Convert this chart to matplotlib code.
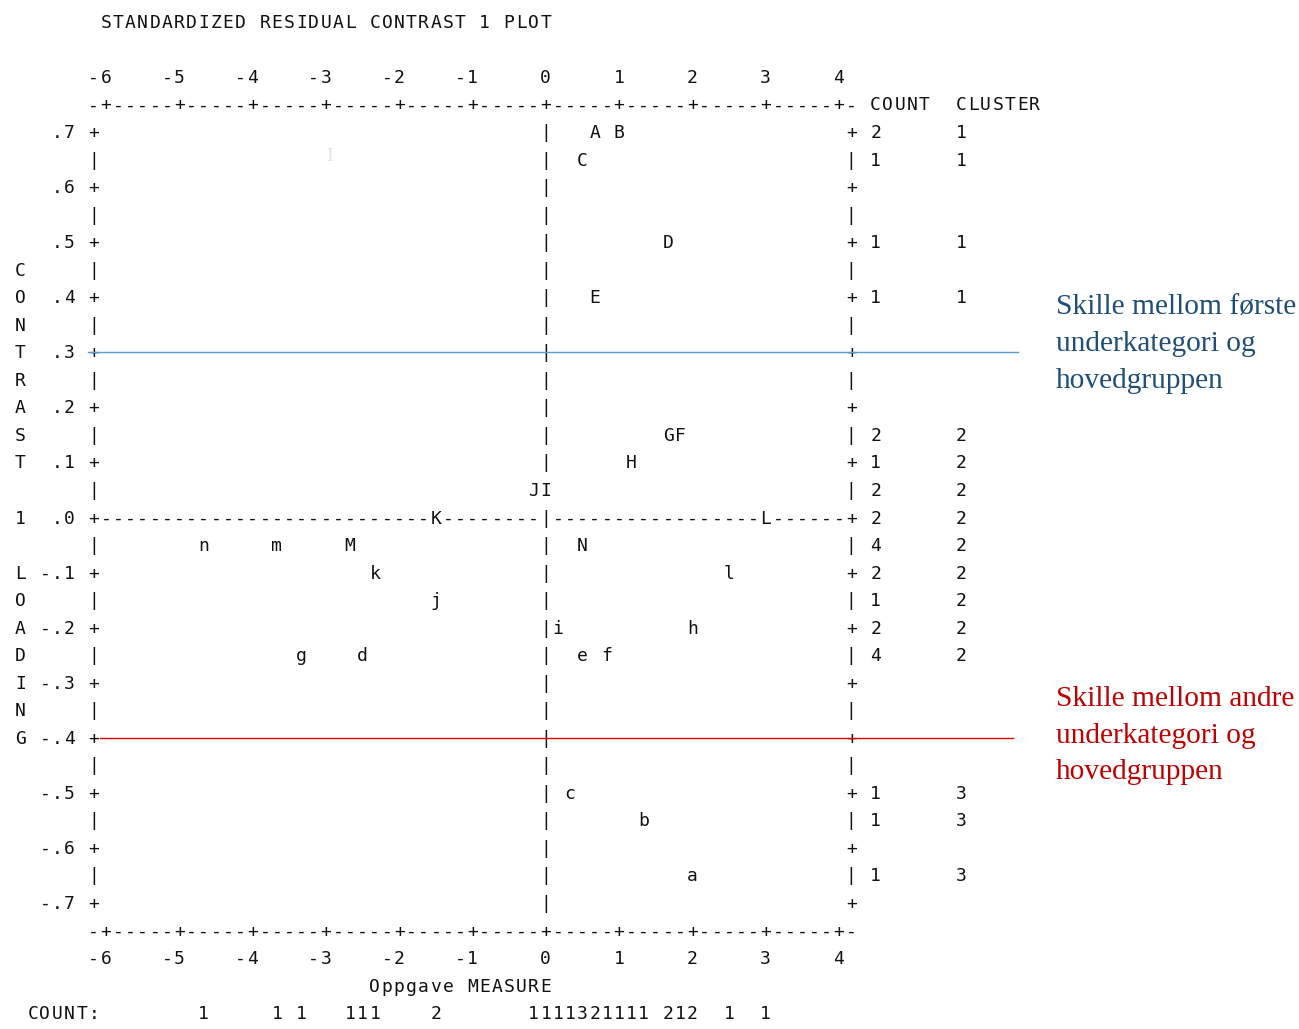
import matplotlib
matplotlib.use("Agg")
import matplotlib.pyplot as plt
from matplotlib.transforms import offset_copy
from collections import Counter

# ---------------- data ----------------
items = ['A', 'B', 'C', 'D', 'E', 'F', 'G', 'H', 'I', 'J', 'K', 'L', 'M', 'N',
         'a', 'b', 'c', 'd', 'e', 'f', 'g', 'h', 'i', 'j', 'k', 'l', 'm', 'n']
measure = [0.67, 1.00, 0.50, 1.67, 0.67, 1.83, 1.67, 1.17, 0.00, -0.17, -1.50, 3.00, -2.67, 0.50,
           2.00, 1.33, 0.33, -2.50, 0.50, 0.83, -3.33, 2.00, 0.17, -1.50, -2.33, 2.50, -3.67, -4.67]
loading = [0.70, 0.70, 0.65, 0.50, 0.40, 0.15, 0.15, 0.10, 0.05, 0.05, 0.00, 0.00, -0.05, -0.05,
           -0.65, -0.55, -0.50, -0.25, -0.25, -0.25, -0.25, -0.20, -0.20, -0.15, -0.10, -0.10, -0.05, -0.05]
cluster = [1, 1, 1, 1, 1, 2, 2, 2, 2, 2, 2, 2, 2, 2,
           3, 3, 3, 2, 2, 2, 2, 2, 2, 2, 2, 2, 2, 2]

x_ticks = [-6, -5, -4, -3, -2, -1, 0, 1, 2, 3, 4]
y_ticks = [0.7, 0.6, 0.5, 0.4, 0.3, 0.2, 0.1, 0.0, -0.1, -0.2, -0.3, -0.4, -0.5, -0.6, -0.7]
y_tick_labels = ['.7', '.6', '.5', '.4', '.3', '.2', '.1', '.0',
                 '-.1', '-.2', '-.3', '-.4', '-.5', '-.6', '-.7']
title = 'STANDARDIZED RESIDUAL CONTRAST 1 PLOT'
x_label = 'Oppgave MEASURE'
y_label = 'CONTRAST 1 LOADING'
separators = [0.3, -0.4]
separator_text = [['Skille mellom første', 'underkategori og', 'hovedgruppen'],
                  ['Skille mellom andre', 'underkategori og', 'hovedgruppen']]

# ---------------- style ----------------
INK = '#111111'
MONO = 'DejaVu Sans Mono'
FS = 13
COLS_PER_UNIT = 6
ROW_STEP = 0.05
BLUE_LINE, BLUE_TXT = '#5B9BD5', '#1F4E79'
RED_LINE, RED_TXT = '#E00000', '#C00000'

fig = plt.figure(figsize=(12.99, 10.29), dpi=100)
ax = fig.add_axes([0, 0, 1, 1])
ax.axis('off')
PX_X0, PX_PER_UNIT = 545.8, 73.3
PX_Y0, PX_PER_LOAD = 517.5, 550.7
ax.set_xlim(-PX_X0 / PX_PER_UNIT, (1299 - PX_X0) / PX_PER_UNIT)
ax.set_ylim((PX_Y0 - 1029) / PX_PER_LOAD, PX_Y0 / PX_PER_LOAD)

trans = offset_copy(ax.transData, fig=fig, x=0, y=-6.0, units='dots')


def put_char(x, y, ch, color=INK):
    ax.text(x, y, ch, transform=trans, ha='center', va='baseline',
            fontfamily=MONO, fontsize=FS, color=color)


def put(col, row, s, align='left'):
    start = col if align == 'left' else col - len(s) + 1
    for i, ch in enumerate(s):
        if ch != ' ':
            put_char((start + i) / COLS_PER_UNIT, row * ROW_STEP, ch)


cols = [round(m * COLS_PER_UNIT) for m in measure]
rows = [round(l / ROW_STEP) for l in loading]
occupied = set(zip(cols, rows))

left_col = x_ticks[0] * COLS_PER_UNIT - 1
right_col = x_ticks[-1] * COLS_PER_UNIT + 1
top_row = round(y_ticks[0] / ROW_STEP) + 1
bot_row = round(y_ticks[-1] / ROW_STEP) - 1
tick_cols = {t * COLS_PER_UNIT for t in x_ticks}

# top & bottom borders
for c in range(left_col, right_col + 1):
    ch = '+' if c in tick_cols else '-'
    put(c, top_row, ch)
    put(c, bot_row, ch)

# left / right borders and centre line
for r in range(bot_row + 1, top_row):
    ch = '+' if r % 2 == 0 else '|'
    put(left_col, r, ch)
    put(right_col, r, ch)
    if (0, r) not in occupied:
        put(0, r, '|')

# zero row dashes
for c in range(left_col + 1, right_col):
    if c != 0 and (c, 0) not in occupied:
        put(c, 0, '-')

# x tick labels
for t in x_ticks:
    put(t * COLS_PER_UNIT, top_row + 1, str(t), align='right')
    put(t * COLS_PER_UNIT, bot_row - 1, str(t), align='right')

# y tick labels
for v, lab in zip(y_ticks, y_tick_labels):
    put(left_col - 2, round(v / ROW_STEP), lab, align='right')

# vertical y label
for i, ch in enumerate(y_label):
    put(left_col - 6, 9 - i, ch)

# title and axis label
put(x_ticks[0] * COLS_PER_UNIT, top_row + 3, title)
put(0, bot_row - 2, x_label, align='right')

# data letters
for lab, m, l in zip(items, measure, loading):
    put_char(m, l, lab)

# right columns: COUNT / CLUSTER
put(right_col + 2, top_row, 'COUNT')
put(right_col + 9, top_row, 'CLUSTER')
row_count = Counter(rows)
row_cluster = {}
for r, cl in zip(rows, cluster):
    row_cluster.setdefault(r, cl)
for r, n in row_count.items():
    put(right_col + 2, r, str(n))
    put(right_col + 9, r, str(row_cluster[r]))

# bottom COUNT row
put(left_col - 5, bot_row - 3, 'COUNT:')
for c, n in Counter(cols).items():
    put(c, bot_row - 3, str(n))

# separator lines and notes
line_x = [(-6.245, 6.446), (-6.08, 6.376)]
line_cols = [BLUE_LINE, RED_LINE]
txt_cols = [BLUE_TXT, RED_TXT]
first_offsets = [38, 32]
for y, (x0, x1), lc, tc, lines, off in zip(separators, line_x, line_cols, txt_cols,
                                           separator_text, first_offsets):
    ax.plot([x0, x1], [y, y], color=lc, lw=1.0, zorder=5)
    for k, s in enumerate(lines):
        t = offset_copy(ax.transData, fig=fig, x=0, y=off - 36.8 * k, units='dots')
        ax.text(6.96, y, s, transform=t, ha='left', va='baseline',
                fontfamily='Liberation Serif', fontsize=21.2, color=tc)

# faint cursor artefact
ax.text(-2.95, 0.655, 'I', ha='center', va='center', fontfamily='Liberation Serif',
        fontsize=14, color='#e4e4e4')

fig.savefig('out.png', dpi=100)
